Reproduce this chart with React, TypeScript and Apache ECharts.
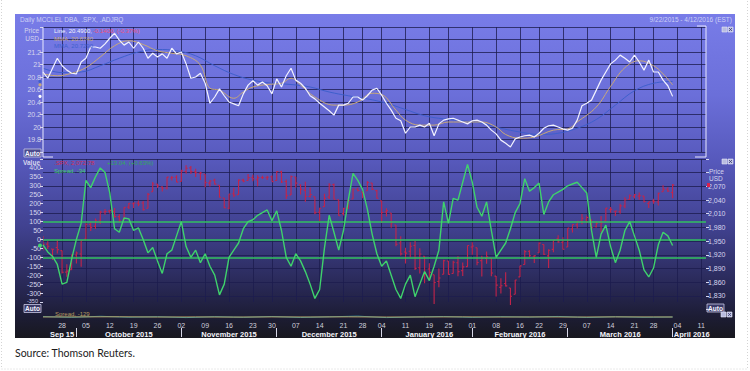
import React, { useEffect, useRef } from 'react';
import * as echarts from 'echarts';

// ---------- calendar (trading days shown on the axis) ----------
const HOLIDAYS = ['2015-11-26', '2015-12-25', '2016-01-01', '2016-01-18', '2016-02-15', '2016-03-25'];
function buildTradingDays(): string[] {
  const out: string[] = [];
  const d = new Date(Date.UTC(2015, 8, 22));
  const end = Date.UTC(2016, 3, 12);
  while (d.getTime() <= end) {
    const dow = d.getUTCDay();
    const s = d.toISOString().slice(0, 10);
    if (dow !== 0 && dow !== 6 && HOLIDAYS.indexOf(s) < 0) out.push(s);
    d.setUTCDate(d.getUTCDate() + 1);
  }
  return out;
}
const categories = buildTradingDays();
const monthLabels = ['Sep 15', 'October 2015', 'November 2015', 'December 2015', 'January 2016', 'February 2016', 'March 2016', 'April 2016'];

// ---------- top panel: DBA line and moving averages ----------
const dbaLine = [
  20.88, 20.78, 20.94, 21.10, 20.98, 20.91, 20.86, 20.85, 21.04, 21.10,
  21.28, 21.28, 21.26, 21.33, 21.42, 21.50, 21.39, 21.31, 21.36, 21.26,
  21.36, 21.26, 21.10, 21.18, 21.12, 21.17, 21.10, 21.26, 21.17, 21.20,
  21.01, 20.78, 20.80, 20.86, 20.70, 20.38, 20.48, 20.61, 20.50, 20.40,
  20.37, 20.34, 20.53, 20.67, 20.74, 20.67, 20.72, 20.66, 20.53, 20.77,
  20.64, 20.82, 20.94, 20.75, 20.70, 20.62, 20.50, 20.45, 20.38, 20.32,
  20.26, 20.19, 20.35, 20.35, 20.38, 20.48, 20.48, 20.43, 20.50, 20.59,
  20.62, 20.51, 20.38, 20.27, 20.14, 20.10, 19.90, 20.00, 20.00, 20.03,
  20.00, 20.06, 19.86, 20.05, 20.11, 20.13, 20.14, 20.11, 20.08, 20.05,
  20.10, 20.11, 20.08, 20.03, 19.95, 19.89, 19.79, 19.74, 19.68, 19.81,
  19.84, 19.86, 19.87, 19.84, 19.90, 19.98, 20.02, 20.03, 20.00, 19.97,
  19.95, 19.98, 20.11, 20.34, 20.38, 20.43, 20.59, 20.75, 20.88, 21.01,
  21.07, 21.15, 21.10, 21.04, 21.15, 21.04, 20.91, 21.07, 20.88, 20.88,
  20.75, 20.66, 20.49,
];
const mmaFast = [
  [0, 20.85], [3, 20.82], [6, 20.86], [9, 20.95], [12, 21.12], [15, 21.30], [18, 21.38], [21, 21.32],
  [24, 21.22], [27, 21.18], [30, 21.14], [33, 20.99], [35, 20.62], [37, 20.59], [40, 20.46], [42, 20.56],
  [44, 20.64], [47, 20.68], [50, 20.70], [52, 20.78], [54, 20.67], [57, 20.48], [61, 20.35], [63, 20.35],
  [66, 20.40], [69, 20.54], [71, 20.52], [74, 20.27], [76, 20.11], [79, 20.03], [82, 20.03], [85, 20.08],
  [89, 20.08], [92, 20.08], [95, 20.00], [97, 19.88], [100, 19.82], [103, 19.84], [107, 19.95], [110, 19.97],
  [112, 20.08], [116, 20.32], [119, 20.65], [122, 20.95], [125, 21.06], [128, 20.98], [130, 20.85], [132, 20.674],
];
const mmaSlow = [
  [0, 20.94], [4, 20.87], [8, 20.88], [12, 20.98], [16, 21.10], [20, 21.20], [24, 21.24], [28, 21.22],
  [32, 21.14], [36, 20.98], [40, 20.84], [44, 20.75], [48, 20.70], [52, 20.68], [56, 20.64], [60, 20.56],
  [64, 20.50], [68, 20.45], [72, 20.38], [76, 20.28], [80, 20.18], [84, 20.13], [88, 20.10], [92, 20.06],
  [96, 19.98], [100, 19.92], [104, 19.88], [108, 19.90], [112, 19.98], [116, 20.12], [120, 20.35], [124, 20.58],
  [128, 20.70], [132, 20.729],
];

// ---------- middle panel: S&P 500 bars (right axis) and spread (left axis) ----------
const spxOpen = [
  1961.39, 1943.24, 1932.57, 1935.93, 1929.18, 1881.90, 1887.14, 1919.65, 1921.77, 1954.33,
  1986.63, 1982.34, 1994.01, 2013.73, 2015.65, 2015.00, 2003.66, 1996.47, 2024.37, 2031.73,
  2033.13, 2033.47, 2021.88, 2058.19, 2075.08, 2068.75, 2066.48, 2088.35, 2090.00, 2080.76,
  2102.63, 2110.60, 2101.68, 2098.60, 2096.56, 2077.19, 2083.41, 2072.29, 2044.64, 2022.08,
  2053.67, 2051.99, 2083.70, 2082.82, 2089.41, 2084.42, 2089.30, 2088.82, 2090.95, 2082.93,
  2101.71, 2080.71, 2051.24, 2090.42, 2073.39, 2061.17, 2047.93, 2047.27, 2013.37, 2025.55,
  2046.50, 2073.76, 2040.81, 2010.27, 2023.15, 2042.20, 2063.52, 2057.77, 2060.54, 2077.34,
  2060.59, 2038.20, 2013.78, 2011.71, 1985.32, 1945.97, 1926.12, 1927.83, 1940.34, 1891.68,
  1916.68, 1888.66, 1876.18, 1861.46, 1877.40, 1906.28, 1878.79, 1902.52, 1885.22, 1894.00,
  1936.94, 1935.26, 1907.07, 1911.67, 1913.07, 1873.25, 1848.46, 1857.10, 1847.00, 1833.40,
  1871.44, 1898.80, 1927.57, 1916.74, 1924.44, 1942.38, 1917.56, 1931.87, 1954.95, 1947.13,
  1937.09, 1976.60, 1985.60, 1994.01, 1996.11, 1996.88, 1981.44, 1990.97, 1994.71, 2019.27,
  2015.27, 2014.24, 2026.90, 2041.16, 2047.88, 2048.64, 2048.55, 2032.48, 2037.89, 2035.75,
  2058.27, 2063.77, 2056.62,
];
const spxHigh = [
  1961.39, 1949.52, 1932.57, 1952.89, 1929.18, 1899.48, 1920.53, 1927.21, 1951.36, 1989.17,
  1991.62, 1999.31, 2016.50, 2020.13, 2018.66, 2022.34, 2009.56, 2024.15, 2033.54, 2034.45,
  2039.12, 2037.97, 2055.20, 2079.74, 2075.14, 2070.37, 2090.35, 2092.52, 2094.32, 2106.20,
  2116.48, 2114.59, 2108.78, 2101.91, 2096.56, 2083.67, 2086.94, 2072.29, 2044.64, 2053.22,
  2066.69, 2085.31, 2086.74, 2097.06, 2095.61, 2094.12, 2093.00, 2093.29, 2093.81, 2103.37,
  2104.27, 2085.00, 2093.84, 2090.42, 2073.85, 2080.33, 2067.65, 2047.27, 2022.92, 2053.87,
  2076.72, 2076.37, 2040.81, 2022.90, 2042.74, 2064.73, 2067.36, 2057.77, 2081.56, 2077.34,
  2062.54, 2038.20, 2021.94, 2011.71, 1985.32, 1960.40, 1935.65, 1947.38, 1950.33, 1934.47,
  1916.68, 1901.44, 1876.18, 1889.85, 1908.85, 1906.28, 1906.73, 1916.99, 1902.96, 1940.24,
  1947.20, 1935.26, 1918.01, 1927.35, 1913.07, 1873.25, 1868.25, 1881.60, 1847.00, 1864.78,
  1895.77, 1930.68, 1930.00, 1918.78, 1946.70, 1942.38, 1932.08, 1951.83, 1962.96, 1958.27,
  1978.35, 1986.51, 1993.69, 2009.13, 2006.12, 1996.88, 1992.69, 2005.08, 2022.37, 2024.57,
  2015.94, 2032.02, 2046.24, 2052.36, 2053.13, 2056.60, 2048.55, 2036.04, 2042.67, 2055.91,
  2072.21, 2067.92, 2075.07,
];
const spxLow = [
  1929.22, 1932.57, 1908.77, 1922.83, 1879.21, 1871.91, 1887.14, 1900.70, 1893.70, 1954.33,
  1971.99, 1976.44, 1987.53, 2007.61, 2010.55, 2001.78, 1990.73, 1996.47, 2020.46, 2022.31,
  2026.61, 2017.22, 2021.88, 2058.19, 2066.53, 2058.84, 2063.11, 2082.63, 2079.34, 2080.76,
  2097.51, 2096.98, 2090.41, 2083.74, 2068.24, 2069.91, 2074.85, 2045.66, 2022.02, 2019.94,
  2045.90, 2051.99, 2078.76, 2082.82, 2081.39, 2070.29, 2086.30, 2084.13, 2080.41, 2082.93,
  2077.11, 2042.35, 2051.24, 2066.78, 2052.32, 2036.53, 2045.67, 2008.80, 1993.26, 2025.55,
  2042.43, 2041.66, 2005.33, 2005.93, 2020.49, 2042.20, 2058.73, 2044.20, 2060.54, 2061.97,
  2043.62, 1989.68, 2004.17, 1979.05, 1938.83, 1918.46, 1901.10, 1914.35, 1886.41, 1878.93,
  1857.83, 1864.60, 1812.29, 1848.98, 1877.40, 1875.97, 1878.79, 1872.70, 1873.65, 1894.00,
  1920.03, 1897.29, 1872.23, 1900.52, 1872.65, 1828.46, 1834.94, 1850.32, 1810.10, 1833.40,
  1871.44, 1898.80, 1915.09, 1902.17, 1924.44, 1919.44, 1891.00, 1925.41, 1945.78, 1931.81,
  1937.09, 1968.80, 1977.37, 1986.77, 1989.38, 1977.43, 1979.84, 1969.25, 1994.71, 2012.05,
  2005.23, 2010.04, 2022.16, 2041.16, 2043.14, 2040.57, 2034.86, 2022.49, 2031.96, 2028.31,
  2058.27, 2057.46, 2043.98,
];
const spxClose = [
  1942.74, 1938.76, 1932.24, 1931.34, 1881.77, 1884.09, 1920.03, 1923.82, 1951.36, 1987.05,
  1979.92, 1995.83, 2013.43, 2014.89, 2017.46, 2003.69, 1994.24, 2023.86, 2033.11, 2033.66,
  2030.77, 2018.94, 2052.51, 2075.15, 2071.18, 2065.89, 2090.35, 2089.41, 2079.36, 2104.05,
  2109.79, 2102.31, 2099.93, 2099.20, 2078.58, 2081.72, 2075.00, 2045.97, 2023.04, 2053.19,
  2050.44, 2083.58, 2081.24, 2089.17, 2086.59, 2089.14, 2088.87, 2090.11, 2080.41, 2102.63,
  2079.51, 2049.62, 2091.69, 2077.07, 2063.59, 2047.62, 2052.23, 2012.37, 2021.94, 2043.41,
  2073.07, 2041.89, 2005.55, 2021.15, 2038.97, 2064.29, 2060.99, 2056.50, 2078.36, 2063.36,
  2043.94, 2012.66, 2016.71, 1990.26, 1943.09, 1922.03, 1923.67, 1938.68, 1890.28, 1921.84,
  1880.33, 1881.33, 1859.33, 1868.99, 1906.90, 1877.08, 1903.63, 1882.95, 1893.36, 1940.24,
  1939.38, 1903.03, 1912.53, 1915.45, 1880.05, 1853.44, 1852.21, 1851.86, 1829.08, 1864.78,
  1895.58, 1926.82, 1917.83, 1917.78, 1945.50, 1921.27, 1929.80, 1951.70, 1948.05, 1932.23,
  1978.35, 1986.45, 1993.40, 1999.99, 2001.76, 1979.26, 1989.26, 1989.57, 2022.19, 2019.64,
  2015.93, 2027.22, 2040.59, 2049.58, 2051.60, 2049.80, 2036.71, 2035.94, 2037.05, 2055.01,
  2063.95, 2059.74, 2072.78,
];
const spread = [
  -30, -70, -95, -140, -250, -240, -110, 0, 90, 330,
  290, 350, 400, 375, 260, 60, 40, 120, 115, 50,
  65, 0, -75, -45, -120, -190, -80, -60, 20, 100,
  -40, -100, -60, -130, -80, -150, -200, -310, -250, -100,
  -60, -20, 60, 100, 110, 135, 150, 165, 105, 160,
  50, -100, -150, -80, -120, -180, -250, -330, -280, -50,
  135, 40, -60, 50, 220, 370, 330, 280, 170, 30,
  -80, -150, -120, -200, -280, -330, -250, -200, -320, -250,
  -180, -230, -150, -60, 210, 90, 230, 220, 320, 420,
  320, 180, 130, 210, 50, -100, -60, -20, 60, 150,
  200, 340, 270, 290, 315, 140, 210, 250, 265, 280,
  300, 310, 320, 290, 260, 50, -100, 30, 80, -40,
  -130, -60, 50, 100, 20, -60, -170, -210, -160, -30,
  40, 20, -34,
];
const bandLevels = [100, 0, -100];

// ---------- bottom strip: spread study ----------
const miniSpread = [
  [0, -115], [6, -140], [12, -105], [18, -135], [24, -120], [30, -150], [36, -118], [42, -140], [48, -112],
  [54, -145], [60, -122], [66, -100], [72, -150], [78, -128], [84, -112], [90, -140], [96, -118], [102, -132],
  [108, -110], [114, -145], [120, -120], [126, -138], [132, -129],
];
const miniAvg = [
  [0, -128], [8, -125], [16, -122], [24, -130], [32, -127], [40, -132], [48, -126], [56, -129], [64, -124],
  [72, -131], [80, -128], [88, -125], [96, -130], [104, -127], [112, -131], [120, -126], [128, -128], [132, -129],
];

// ---------- colours ----------
const RED = '#c4244a';
const GREEN = '#3fd26c';
const BAND = '#33c060';
const WHITE = '#f2f2ff';
const TAN = '#c8a878';
const BLUE = '#3f5fcc';
const GRIDC = 'rgba(28,28,78,0.78)';
const LABC = '#d6d6ee';
const FONT = 'Liberation Sans';

const dow = (s: string) => new Date(s + 'T00:00:00Z').getUTCDay();
const weekStart = categories.map((d, i) => i > 0 && dow(d) <= dow(categories[i - 1]));
const monthStart = categories.map((d, i) => i > 0 && d.slice(5, 7) !== categories[i - 1].slice(5, 7));
const segStarts = [0].concat(categories.map((_, i) => i).filter((i) => monthStart[i]));
const monthLabelAt: Record<number, string> = {};
segStarts.forEach((s, k) => {
  const e = k + 1 < segStarts.length ? segStarts[k + 1] : categories.length;
  monthLabelAt[Math.round((s + e) / 2)] = monthLabels[k];
});

function txt(x: number, y: number, text: string, fill: string, size = 6.5, extra: any = {}) {
  return {
    type: 'text', x, y, z: 20,
    style: { text, fill, font: `${extra.weight || 'normal'} ${size}px "${extra.family || FONT}"`, textAlign: extra.align || 'left', textVerticalAlign: 'middle' },
  };
}
function autoBtn(x: number, y: number) {
  return {
    type: 'group', x, y, z: 20,
    children: [
      { type: 'rect', shape: { x: 0, y: 0, width: 17, height: 8 }, style: { fill: 'rgba(70,70,120,0.7)', stroke: '#c9c9e6', lineWidth: 0.8 } },
      { type: 'text', x: 8.5, y: 4, style: { text: 'Auto', fill: '#f4f4ff', font: `bold 6.5px "${FONT}"`, textAlign: 'center', textVerticalAlign: 'middle' } },
    ],
  };
}
function icons(x: number, y: number) {
  return {
    type: 'group', x, y, z: 20,
    children: [
      { type: 'rect', shape: { x: 0, y: 0, width: 5, height: 5 }, style: { fill: '#b8bce0', stroke: '#e6e6f6', lineWidth: 0.6 } },
      { type: 'rect', shape: { x: 6, y: 0, width: 5, height: 5 }, style: { fill: '#b8bce0', stroke: '#e6e6f6', lineWidth: 0.6 } },
      { type: 'line', shape: { x1: 7, y1: 1, x2: 10, y2: 4 }, style: { stroke: '#404070', lineWidth: 0.8 } },
      { type: 'line', shape: { x1: 10, y1: 1, x2: 7, y2: 4 }, style: { stroke: '#404070', lineWidth: 0.8 } },
    ],
  };
}

export default function App() {
  const ref = useRef<HTMLDivElement>(null);
  useEffect(() => {
    if (!ref.current) return;
    const chart = echarts.init(ref.current, undefined, { renderer: 'svg' });
    const hiddenCat = (gridIndex: number, split: boolean) => ({
      type: 'category', gridIndex, data: categories, boundaryGap: false,
      axisLine: { show: false }, axisTick: { show: false }, axisLabel: { show: false },
      splitLine: { show: split, interval: (i: number) => weekStart[i], lineStyle: { color: GRIDC, width: 1 } },
    });
    const staticGraphic: any[] = [
      { type: 'rect', z: -10, shape: { x: 1.5, y: -3, width: 746, height: 372 }, style: { fill: '#ffffff', stroke: '#d4d4d4', lineWidth: 1, lineDash: [1, 2] } },
      {
        type: 'rect', z: -9, shape: { x: 15, y: 14, width: 720, height: 324 },
        style: {
          fill: new echarts.graphic.LinearGradient(0, 0, 0, 1, [
            { offset: 0, color: '#787ce8' },
            { offset: 0.25, color: '#6b6fd9' },
            { offset: 0.45, color: '#5759bc' },
            { offset: 0.66, color: '#40418f' },
            { offset: 0.85, color: '#272752' },
            { offset: 0.93, color: '#1d1d36' },
            { offset: 1, color: '#18181f' },
          ]),
        },
      },
      txt(20, 19, 'Daily MCCLEL DBA, .SPX, .ADJRQ', '#cdd0f6', 6.5),
      txt(732, 19, '9/22/2015 - 4/12/2016 (EST)', '#cdd0f6', 6.5, { align: 'right' }),
      icons(722, 27), icons(722, 159), icons(721, 312),
      txt(39, 30, 'Price', LABC, 6.5, { align: 'right' }),
      txt(39, 38, 'USD', LABC, 6.5, { align: 'right' }),
      txt(54, 31, 'Line, 20.4900,', WHITE, 6),
      txt(93, 31, '-0.1400, (-0.37%)', '#f0507a', 6),
      txt(54, 39, 'MMA, 20.6740', TAN, 6),
      txt(54, 46, 'MMA, 20.7290', BLUE, 6),
      { type: 'polyline', z: 15, shape: { points: [[43, 27], [43, 157], [53, 157]] }, style: { stroke: '#e8e8ff', lineWidth: 1, fill: 'none' } },
      { type: 'polyline', z: 15, shape: { points: [[697, 26], [706, 26], [706, 157], [695, 157]] }, style: { stroke: '#e8e8ff', lineWidth: 1, fill: 'none' } },
      autoBtn(24, 149),
      txt(40, 162, 'Value', LABC, 6.5, { align: 'right', weight: 'bold' }),
      txt(54, 163, '.SPX, 2,072.78', '#d02c54', 6),
      txt(107, 163, '+13.04, (+0.63%)', '#2fa85a', 6),
      txt(54, 171, 'Spread, -34', GREEN, 6),
      txt(709, 171, 'Price', LABC, 6.5),
      txt(709, 178, 'USD', LABC, 6.5),
      autoBtn(24, 304.5),
      autoBtn(707, 304),
      txt(55, 314, 'Spread, -129', '#b89a60', 6),
      txt(15, 353, 'Source: Thomson Reuters.', '#1a1a1a', 10.5, { family: 'Lato' }),
    ];

    const option: any = {
      animation: false,
      backgroundColor: 'transparent',
      textStyle: { fontFamily: FONT },
      grid: [
        { left: 43, right: 44, top: 27, height: 125 },
        { left: 43, right: 44, top: 159, height: 143 },
        { left: 43, right: 44, top: 302, height: 17 },
        { left: 43, right: 44, top: 159, height: 150.5 },
      ],
      xAxis: [
        hiddenCat(0, true),
        hiddenCat(1, true),
        {
          type: 'category', gridIndex: 2, data: categories, boundaryGap: false,
          axisLine: { show: false }, axisTick: { show: false }, splitLine: { show: false },
          axisLabel: {
            interval: (i: number) => weekStart[i], margin: 3, color: '#cfcfdc', fontSize: 7,
            formatter: (v: string) => v.slice(8, 10),
          },
        },
        {
          type: 'category', gridIndex: 2, data: categories, boundaryGap: false, position: 'bottom', offset: 9,
          axisLine: { show: false }, splitLine: { show: false },
          axisTick: { show: true, interval: (i: number) => monthStart[i], length: 9, lineStyle: { color: '#d8d8e8', width: 1 } },
          axisLabel: {
            interval: (i: number) => monthLabelAt[i] !== undefined, margin: 2, color: '#f4f4fa', fontSize: 7.5, fontWeight: 'bold',
            formatter: (_v: string, i: number) => monthLabelAt[i] || '',
          },
        },
        hiddenCat(3, false),
      ],
      yAxis: [
        {
          type: 'value', gridIndex: 0, min: 19.6, max: 21.6, interval: 0.2, position: 'left',
          axisLine: { show: false }, axisTick: { show: true, length: 3, lineStyle: { color: LABC } },
          axisLabel: {
            color: LABC, fontSize: 7, margin: 2,
            formatter: (v: number) => { const r = Math.round(v * 10) / 10; if (r > 21.3 || r < 19.7) return ''; return Number.isInteger(r) ? String(r) : r.toFixed(1); },
          },
          splitLine: { show: true, lineStyle: { color: GRIDC, width: 1 } },
        },
        {
          type: 'value', gridIndex: 1, min: -350, max: 450, interval: 50, position: 'left',
          axisLine: { show: false }, axisTick: { show: true, length: 3, lineStyle: { color: LABC } },
          axisLabel: { color: LABC, fontSize: 7, margin: 2, formatter: (v: number) => (v > 400 || v < -300 ? '' : String(v)) },
          splitLine: { show: false },
        },
        { type: 'value', gridIndex: 2, min: -200, max: 400, show: false, splitLine: { show: false } },
        {
          type: 'value', gridIndex: 3, min: 1800, max: 2130, interval: 30, position: 'right',
          axisLine: { show: false }, axisTick: { show: true, length: 3, lineStyle: { color: LABC } },
          axisLabel: { color: LABC, fontSize: 7, margin: 2, formatter: (v: number) => (v < 1830 || v > 2070 ? '' : v.toLocaleString('en-US')) },
          splitLine: { show: true, lineStyle: { color: ['transparent'].concat(Array(11).fill(GRIDC)), width: 1 } },
        },
      ],
      series: [
        { type: 'line', name: 'MMA slow', xAxisIndex: 0, yAxisIndex: 0, data: mmaSlow, smooth: 0.4, showSymbol: false, lineStyle: { color: BLUE, width: 1 }, z: 3 },
        { type: 'line', name: 'MMA fast', xAxisIndex: 0, yAxisIndex: 0, data: mmaFast, smooth: 0.4, showSymbol: false, lineStyle: { color: TAN, width: 1 }, z: 4 },
        { type: 'line', name: 'Line', xAxisIndex: 0, yAxisIndex: 0, data: dbaLine, showSymbol: false, lineStyle: { color: WHITE, width: 1.2 }, z: 5 },
        {
          type: 'custom', name: '.SPX', xAxisIndex: 4, yAxisIndex: 3, clip: true, z: 3,
          encode: { x: 0, y: [1, 2, 3, 4] },
          data: spxClose.map((c, i) => [i, spxOpen[i], spxHigh[i], spxLow[i], c]),
          renderItem: (_p: any, api: any) => {
            const i = api.value(0);
            const top = api.coord([i, api.value(2)]);
            const bot = api.coord([i, api.value(3)]);
            const po = api.coord([i, api.value(1)]);
            const pc = api.coord([i, api.value(4)]);
            const st = { stroke: RED, lineWidth: 1.1 };
            return {
              type: 'group',
              children: [
                { type: 'line', shape: { x1: top[0], y1: top[1], x2: bot[0], y2: bot[1] }, style: st },
                { type: 'line', shape: { x1: po[0] - 1.6, y1: po[1], x2: po[0], y2: po[1] }, style: st },
                { type: 'line', shape: { x1: pc[0], y1: pc[1], x2: pc[0] + 1.6, y2: pc[1] }, style: st },
              ],
            };
          },
        },
        {
          type: 'line', name: 'Spread', xAxisIndex: 1, yAxisIndex: 1, data: spread, showSymbol: false, z: 6,
          lineStyle: { color: GREEN, width: 1.4 },
          markLine: {
            silent: true, symbol: 'none', label: { show: false },
            lineStyle: { color: BAND, width: 1.5, type: 'solid' },
            data: bandLevels.map((v) => ({ yAxis: v })),
          },
        },
        { type: 'line', name: 'Spread study', xAxisIndex: 2, yAxisIndex: 2, data: miniSpread, showSymbol: false, lineStyle: { color: '#2f9aa6', width: 1 } },
        { type: 'line', name: 'Spread avg', xAxisIndex: 2, yAxisIndex: 2, data: miniAvg, showSymbol: false, lineStyle: { color: '#b89a60', width: 1 } },
      ],
      graphic: staticGraphic,
    };
    chart.setOption(option);

    const last = dbaLine.length - 1;
    const yTop = (v: number) => chart.convertToPixel({ yAxisIndex: 0 } as any, v) as unknown as number;
    const ySpread = (v: number) => chart.convertToPixel({ yAxisIndex: 1 } as any, v) as unknown as number;
    const ySpx = (v: number) => chart.convertToPixel({ yAxisIndex: 3 } as any, v) as unknown as number;
    const extra: any[] = [
      { type: 'circle', z: 21, shape: { cx: 40, cy: yTop(mmaSlow[mmaSlow.length - 1][1]), r: 1.6 }, style: { fill: BLUE } },
      { type: 'circle', z: 21, shape: { cx: 40, cy: yTop(mmaFast[mmaFast.length - 1][1]), r: 1.6 }, style: { fill: TAN } },
      { type: 'circle', z: 21, shape: { cx: 40, cy: yTop(dbaLine[last]), r: 1.6 }, style: { fill: '#ffffff' } },
      { type: 'circle', z: 21, shape: { cx: 40, cy: ySpread(spread[last]), r: 2 }, style: { fill: GREEN } },
      { type: 'rect', z: 21, shape: { x: 707, y: ySpx(spxClose[last]) - 2, width: 3, height: 4 }, style: { fill: '#e0204a' } },
      // the lowest scale label of the spread axis, squeezed in small just under -300 as in the source
      txt(38, ySpread(-350) - 1.5, '-350', LABC, 5.5, { align: 'right' }),
    ];
    chart.setOption({ graphic: staticGraphic.concat(extra) }, { replaceMerge: ['graphic'] } as any);
    return () => chart.dispose();
  }, []);
  return <div ref={ref} style={{ position: 'absolute', left: 0, top: 0, width: 750, height: 371 }} />;
}
